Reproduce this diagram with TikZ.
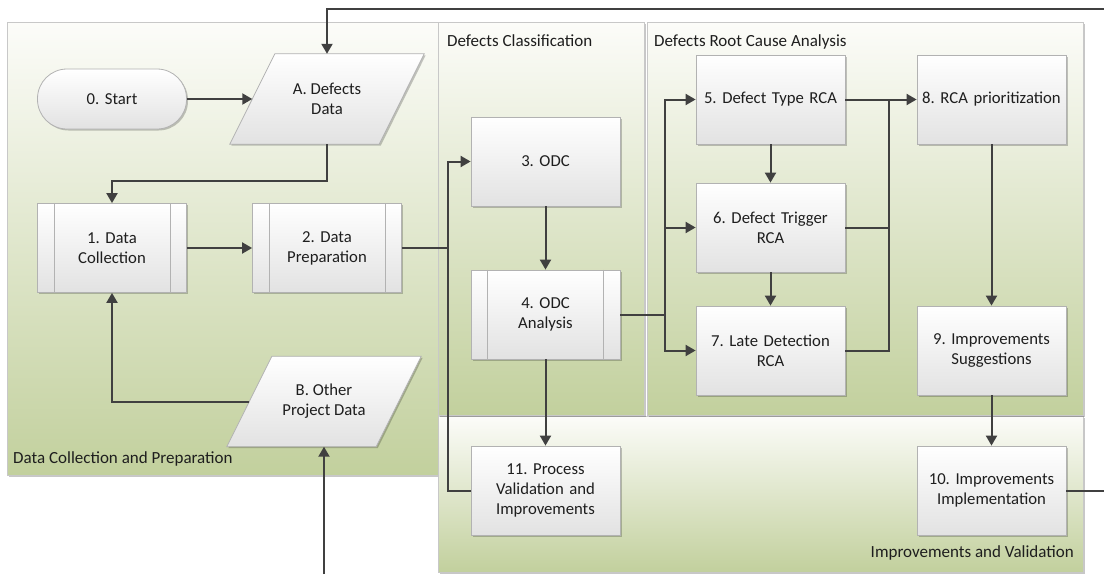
\documentclass[tikz,border=0pt]{standalone}
\usepackage{fontspec}
\setmainfont{Carlito}
\frenchspacing
\usetikzlibrary{arrows.meta,shadows}
\definecolor{linec}{RGB}{64,64,64}
\definecolor{boxb}{RGB}{178,178,178}
\definecolor{boxbot}{RGB}{226,226,226}
\definecolor{pgreen}{RGB}{194,208,157}
\definecolor{ptop}{RGB}{252,252,249}
\definecolor{pborder}{RGB}{200,200,200}
\definecolor{txtc}{RGB}{30,30,30}
\pgfdeclarelayer{bg}
\pgfdeclarelayer{mid}
\pgfsetlayers{bg,mid,main}
\begin{document}
\begin{tikzpicture}[x=1pt,y=-1pt,
  font=\fontsize{16.7}{20}\selectfont,
  every node/.style={text=txtc},
  shad/.style={drop shadow={shadow xshift=1.5pt,shadow yshift=-1.5pt,opacity=0.22,fill=black}},
  box/.style={shad,draw=boxb,line width=0.8pt,top color=white,bottom color=boxbot,
    minimum width=149pt,minimum height=89pt,align=center,inner sep=2pt,text width=143pt},
  startbox/.style={box,rounded corners=29.5pt,minimum height=60pt},
  datatext/.style={minimum width=149pt,minimum height=90pt,align=center,inner sep=1pt},
  datashape/.style={shad,draw=boxb,line width=0.8pt,top color=white,bottom color=boxbot},
  panel/.style={shad,draw=pborder,line width=0.7pt,top color=ptop,bottom color=pgreen,inner sep=0pt},
  plabel/.style={inner sep=0pt,font=\fontsize{17}{20}\selectfont},
  conn/.style={draw=linec,line width=2pt},
  arr/.style={-{Triangle[length=10pt,width=11pt]}},
  subline/.style={draw=boxb,line width=0.8pt}
]
\useasboundingbox (0,0) rectangle (1104,574);

% panels
\begin{pgfonlayer}{bg}
\node[panel,minimum width=431pt,minimum height=453pt] (P1) at (222.5,248.5) {};
\node[panel,minimum width=645pt,minimum height=156pt] (P4) at (760.5,494) {};
\node[panel,minimum width=206pt,minimum height=393pt] (P2) at (541,218.5) {};
\node[panel,minimum width=436pt,minimum height=393pt] (P3) at (865,218.5) {};
\end{pgfonlayer}
\node[plabel,anchor=base west] (L1) at (13,463) {Data Collection and Preparation};
\node[plabel,anchor=base west] (L2) at (447,46) {Defects Classification};
\node[plabel,anchor=base west] (L3) at (654,46) {Defects Root Cause Analysis};
\node[plabel,anchor=base east] (L4) at (1074,557) {Improvements and Validation};

% nodes
\node[startbox] (n0) at (112,99) {0. Start};
\node[datatext] (A) at (327,99) {A. Defects\\Data};
\node[box] (n1) at (112,248) {1. Data\\Collection};
\node[box] (n2) at (327,248) {2. Data\\Preparation};
\node[datatext] (B) at (324,401.5) {B. Other\\Project Data};
\node[box] (n3) at (545.5,161.5) {3. ODC};
\node[box] (n4) at (545.5,314.5) {4. ODC\\Analysis};
\node[box] (n11) at (545.5,490.5) {11. Process\\Validation and\\Improvements};
\node[box] (n5) at (770.5,99.5) {5. Defect Type RCA};
\node[box] (n6) at (770.5,227.5) {6. Defect Trigger\\RCA};
\node[box] (n7) at (770.5,350.5) {7. Late Detection\\RCA};
\node[box] (n8) at (991.5,99.5) {8. RCA prioritization};
\node[box] (n9) at (991.5,350.5) {9. Improvements\\Suggestions};
\node[box] (n10) at (991.5,490.5) {10. Improvements\\Implementation};

% parallelogram outlines for the data nodes
\begin{pgfonlayer}{mid}
\foreach \n in {A,B}{
  \path[datashape] ([xshift=22.5pt]\n.north west) -- ([xshift=22.5pt]\n.north east)
    -- ([xshift=-22.5pt]\n.south east) -- ([xshift=-22.5pt]\n.south west) -- cycle;
}
\end{pgfonlayer}

% subroutine side lines
\foreach \n in {n1,n2,n4}{
  \draw[subline] ([xshift=17pt]\n.north west) -- ([xshift=17pt]\n.south west);
  \draw[subline] ([xshift=-17pt]\n.north east) -- ([xshift=-17pt]\n.south east);
}

% junction coordinates
\coordinate (j1) at (448,0);
\coordinate (j2) at (665,0);
\coordinate (j3) at (889,0);
\coordinate (topR) at (1104,9);
\coordinate (outR) at (1104,490.5);
\coordinate (botB) at (324,574);

% connectors
\draw[conn,arr] (n0) -- (A);
\draw[conn,arr] (A.south) -- ++(0,37) -| (n1.north);
\draw[conn,arr] (n1) -- (n2);
\draw[conn,arr] (n2.east) -| (j1 |- n3.west) -- (n3.west);
\draw[conn] (n11.west) -| (j1 |- n3.west);
\draw[conn,arr] (n3) -- (n4);
\draw[conn,arr] (n4) -- (n11);
\draw[conn,arr] (n4.east) -| (j2 |- n5.west) -- (n5.west);
\draw[conn,arr] (j2 |- n4.east) |- (n7.west);
\draw[conn,arr] (j2 |- n6.west) -- (n6.west);
\draw[conn,arr] (n5) -- (n6);
\draw[conn,arr] (n6) -- (n7);
\draw[conn,arr] (n5) -- (n8);
\draw[conn] (n6.east) -| (j3 |- n5.east);
\draw[conn] (n7.east) -| (j3 |- n6.east);
\draw[conn,arr] (n8) -- (n9);
\draw[conn,arr] (n9) -- (n10);
\draw[conn] (n10.east) -- (outR);
\draw[conn,arr] (topR) -| (A.north);
\draw[conn,arr] (botB) -- (B.south);
\draw[conn,arr] (B.west) -| (n1.south);
\end{tikzpicture}
\end{document}
